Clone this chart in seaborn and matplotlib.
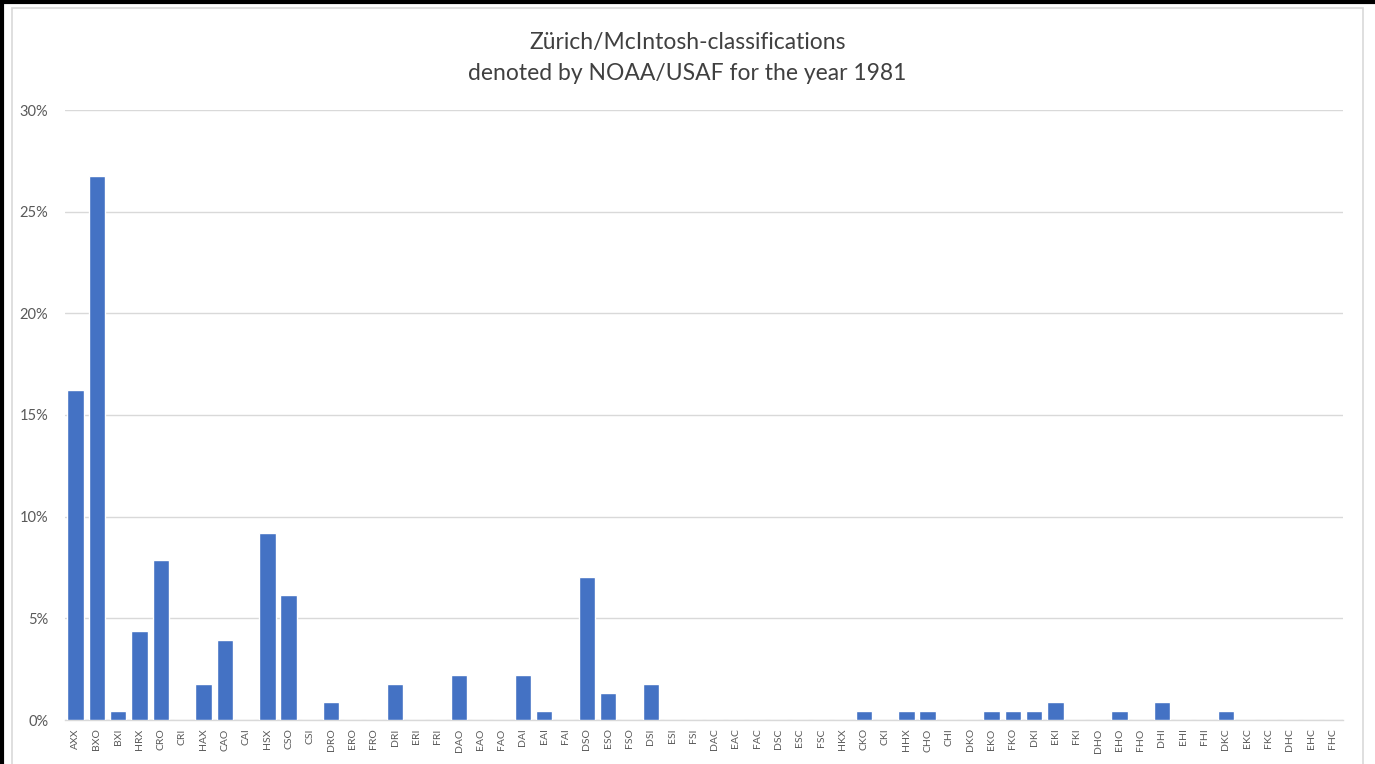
import matplotlib
matplotlib.use('Agg')
import matplotlib.pyplot as plt
import matplotlib.patches as mpatches
from matplotlib.ticker import FuncFormatter
import seaborn as sns
import pandas as pd

# Data: share of each Zurich/McIntosh class (percent)
classes = [
    'AXX', 'BXO', 'BXI', 'HRX', 'CRO', 'CRI', 'HAX', 'CAO', 'CAI', 'HSX',
    'CSO', 'CSI', 'DRO', 'ERO', 'FRO', 'DRI', 'ERI', 'FRI', 'DAO', 'EAO',
    'FAO', 'DAI', 'EAI', 'FAI', 'DSO', 'ESO', 'FSO', 'DSI', 'ESI', 'FSI',
    'DAC', 'EAC', 'FAC', 'DSC', 'ESC', 'FSC', 'HKX', 'CKO', 'CKI', 'HHX',
    'CHO', 'CHI', 'DKO', 'EKO', 'FKO', 'DKI', 'EKI', 'FKI', 'DHO', 'EHO',
    'FHO', 'DHI', 'EHI', 'FHI', 'DKC', 'EKC', 'FKC', 'DHC', 'EHC', 'FHC',
]
share_pct = [
    16.23, 26.75, 0.44, 4.39, 7.89, 0.0, 1.75, 3.95, 0.0, 9.21,
    6.14, 0.0, 0.88, 0.0, 0.0, 1.75, 0.0, 0.0, 2.19, 0.0,
    0.0, 2.19, 0.44, 0.0, 7.02, 1.32, 0.0, 1.75, 0.0, 0.0,
    0.0, 0.0, 0.0, 0.0, 0.0, 0.0, 0.0, 0.44, 0.0, 0.44,
    0.44, 0.0, 0.0, 0.44, 0.44, 0.44, 0.88, 0.0, 0.0, 0.44,
    0.0, 0.88, 0.0, 0.0, 0.44, 0.0, 0.0, 0.0, 0.0, 0.0,
]
y_ticks = [0, 5, 10, 15, 20, 25, 30]

df = pd.DataFrame({'cls': classes, 'pct': share_pct})

sns.set_theme(style='white')
plt.rcParams['font.family'] = ['Lato', 'DejaVu Sans']

fig = plt.figure(figsize=(13.75, 7.64), dpi=100)
ax = fig.add_axes([65 / 1375, 44 / 764, 1278 / 1375, 610 / 764])

sns.barplot(data=df, x='cls', y='pct', color='#4472C4', saturation=1,
            width=0.77, ax=ax, zorder=3)

ax.set_ylim(0, 30)
ax.set_xlim(-0.5, len(classes) - 0.5)
ax.set_yticks(y_ticks)
ax.yaxis.set_major_formatter(FuncFormatter(lambda v, _: f'{v:.0f}%'))
ax.grid(axis='y', color='#d9d9d9', linewidth=1, zorder=0)
ax.set_xlabel('')
ax.set_ylabel('')
for side in ['top', 'right', 'left']:
    ax.spines[side].set_visible(False)
ax.spines['bottom'].set_color('#d9d9d9')
ax.spines['bottom'].set_linewidth(1)
ax.tick_params(axis='x', labelrotation=90, labelsize=7.5, colors='#595959',
               length=0, pad=6)
ax.tick_params(axis='y', labelsize=10.5, colors='#595959', length=0, pad=12)

fig.text(0.5, 1 - 42 / 764, 'Zürich/McIntosh-classifications',
         ha='center', va='center', fontsize=16.5, color='#404040')
fig.text(0.5, 1 - 73 / 764, 'denoted by NOAA/USAF for the year 1981',
         ha='center', va='center', fontsize=16.5, color='#404040')

# chart frame and outer black border
fig.patches.append(mpatches.Rectangle((12 / 1375, -0.05), 1351 / 1375, 1.05 - 8 / 764,
                                      transform=fig.transFigure, fill=False,
                                      edgecolor='#d9d9d9', linewidth=1.2))
fig.add_artist(plt.Line2D([0, 1], [1 - 2 / 764, 1 - 2 / 764],
                          transform=fig.transFigure, color='black', linewidth=3))
fig.add_artist(plt.Line2D([2 / 1375, 2 / 1375], [0, 1],
                          transform=fig.transFigure, color='black', linewidth=3))

fig.savefig('out.png', dpi=100)
